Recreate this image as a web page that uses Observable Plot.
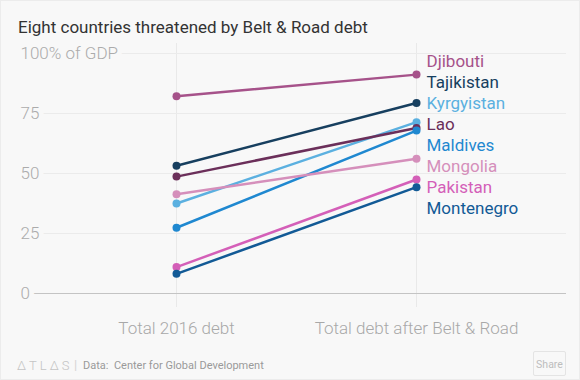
<!DOCTYPE html>
<html><head><meta charset="utf-8">
<script src="https://cdn.jsdelivr.net/npm/d3@7"></script>
<script src="https://cdn.jsdelivr.net/npm/@observablehq/plot@0.6"></script>
<style>
html,body{margin:0;padding:0;background:#fff;}
#wrap{position:relative;width:578px;height:378px;background:#f8f8f8;border:1px solid #ececec;overflow:hidden;font-family:Roboto,"Noto Sans",sans-serif;}
#title{height:25px;padding:14px 0 0 17px;font-size:17px;line-height:24px;color:#333;}
#chart{height:300px;}
#chart svg{display:block;}
#footer{position:relative;height:38px;}
#logo{position:absolute;left:16px;top:18px;font-size:13px;letter-spacing:3px;color:#c4c4c4;font-weight:300;}
#sep{position:absolute;left:73px;top:17px;font-size:13px;color:#d4d4d4;}
#source{position:absolute;left:82px;top:19px;font-size:11px;color:#9a9a9a;}
#share{position:absolute;left:532px;top:11px;width:33px;height:25px;border:1px solid #e4e4e4;border-radius:2px;font-size:10.5px;color:#bdbdbd;line-height:25px;text-align:center;box-sizing:border-box;}
</style>
</head><body>
<div id="wrap">
  <div id="title">Eight countries threatened by Belt &amp; Road debt</div>
  <div id="chart"></div>
  <div id="footer">
    <span id="logo">ΔTLΔS</span><span id="sep">|</span>
    <span id="source">Data:&nbsp; Center for Global Development</span>
    <div id="share">Share</div>
  </div>
</div>
<script>
const countries = ["Djibouti","Tajikistan","Kyrgyistan","Lao","Maldives","Mongolia","Pakistan","Montenegro"];
const debt2016  = [82.2, 53.2, 37.5, 48.7, 27.4, 41.4, 11.0, 8.2];
const debtAfter = [91.2, 79.4, 71.4, 69.0, 67.9, 56.1, 47.5, 44.3];
const colors    = ["#a6528a","#173f5f","#5bb0e0","#6b2f5a","#1f88d0","#d58fbb","#d45fb8","#125a96"];
const stages    = ["Total 2016 debt","Total debt after Belt & Road"];
const yTicks      = [0, 25, 50, 75, 100];
const yTickLabels = ["0","25","50","75","100% of GDP"];

const rows = countries.flatMap((c, i) => [
  {country: c, stage: stages[0], value: debt2016[i]},
  {country: c, stage: stages[1], value: debtAfter[i]}
]);

// Dodge end labels vertically so they do not overlap (pool-adjacent-violators)
function dodge(vals, gap) {
  const order = d3.range(vals.length).sort((a, b) => vals[b] - vals[a]);
  const blocks = [];
  order.forEach((idx, k) => {
    blocks.push({sum: vals[idx] + k * gap, n: 1, items: [k]});
    while (blocks.length > 1) {
      const b = blocks[blocks.length - 1], a = blocks[blocks.length - 2];
      if (b.sum / b.n > a.sum / a.n) {
        a.sum += b.sum; a.n += b.n; a.items.push(...b.items); blocks.pop();
      } else break;
    }
  });
  const out = new Array(vals.length);
  blocks.forEach(b => b.items.forEach(k => { out[order[k]] = b.sum / b.n - k * gap; }));
  return out;
}
const labelPos = dodge(debtAfter, 8.75);
const labels = countries.map((c, i) => ({country: c, stage: stages[1], value: labelPos[i]}));
const ticks = yTicks.map((v, i) => ({value: v, label: yTickLabels[i]}));

const chart = Plot.plot({
  width: 578,
  height: 300,
  marginTop: 13,
  marginBottom: 47,
  marginLeft: 19,
  marginRight: 13,
  style: {fontFamily: "Roboto, 'Noto Sans', sans-serif", background: "transparent", overflow: "visible"},
  x: {type: "point", domain: stages, range: [175, 415], padding: 0, axis: null},
  y: {domain: [0, 100], axis: null},
  color: {domain: countries, range: colors},
  marks: [
    Plot.ruleX(stages, {stroke: "#e9e9e9", strokeWidth: 1, insetTop: -10, insetBottom: -14}),
    Plot.ruleY(yTicks.filter(d => d > 0), {stroke: "#ebebeb", strokeWidth: 1}),
    Plot.ruleY([0], {stroke: "#c4c4c4", strokeWidth: 1.2}),
    Plot.text(ticks, {y: "value", text: "label", frameAnchor: "left", textAnchor: "start", lineAnchor: "middle",
      fontSize: 17, fill: "#ababab", stroke: "#f8f8f8", strokeWidth: 10, fontWeight: 300}),
    Plot.axisX({domain: stages, tickSize: 0, tickPadding: 28, fontSize: 17, fill: "#a8a8a8", label: null, fontWeight: 300}),
    Plot.line(rows, {x: "stage", y: "value", z: "country", stroke: "country", strokeWidth: 2.5}),
    Plot.dot(rows, {x: "stage", y: "value", fill: "country", r: 4}),
    Plot.text(labels, {x: "stage", y: "value", text: "country", fill: "country", dx: 10,
      textAnchor: "start", lineAnchor: "middle", fontSize: 17})
  ]
});
document.getElementById("chart").appendChild(chart);
</script>
</body></html>
